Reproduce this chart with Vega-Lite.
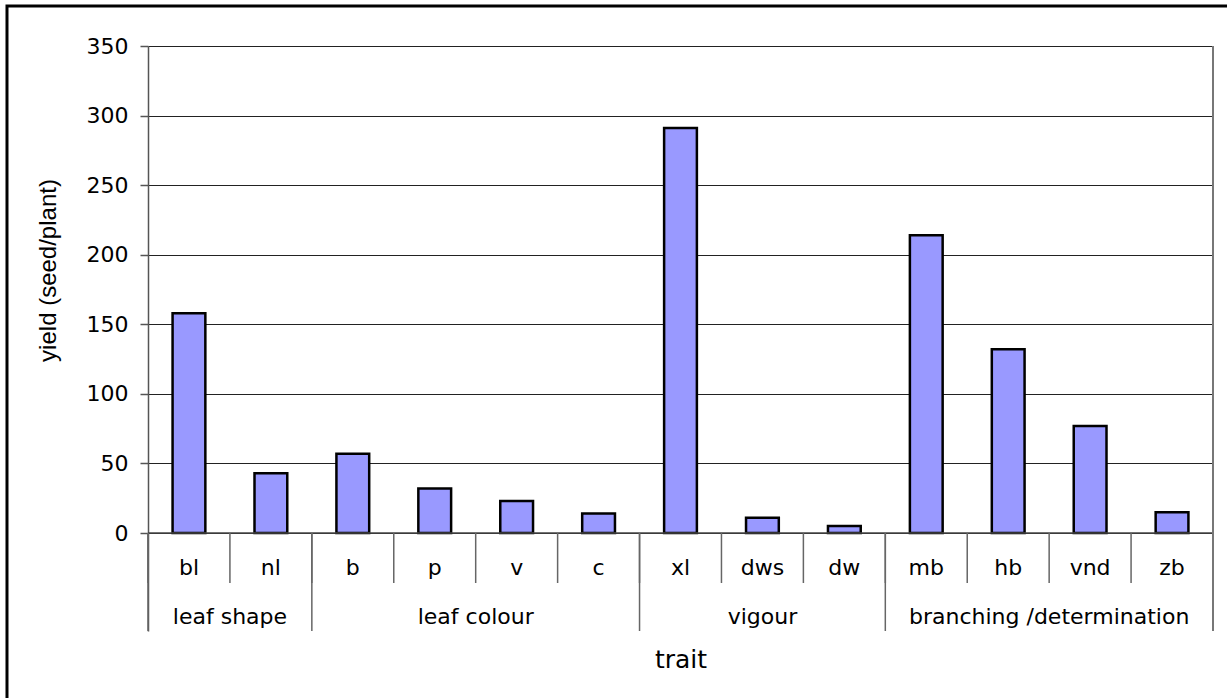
{
  "$schema": "https://vega.github.io/schema/vega-lite/v6.json",
  "width": 1065,
  "height": 585,
  "autosize": {"type": "none"},
  "padding": {"left": 148, "top": 46, "right": 14, "bottom": 67},
  "background": "white",
  "config": {"view": {"stroke": null}, "font": "DejaVu Sans"},
  "data": {
    "values": [
      {"trait": "bl", "group": "leaf shape", "yield": 158},
      {"trait": "nl", "group": "leaf shape", "yield": 43},
      {"trait": "b", "group": "leaf colour", "yield": 57},
      {"trait": "p", "group": "leaf colour", "yield": 32},
      {"trait": "v", "group": "leaf colour", "yield": 23},
      {"trait": "c", "group": "leaf colour", "yield": 14},
      {"trait": "xl", "group": "vigour", "yield": 291},
      {"trait": "dws", "group": "vigour", "yield": 11},
      {"trait": "dw", "group": "vigour", "yield": 5},
      {"trait": "mb", "group": "branching /determination", "yield": 214},
      {"trait": "hb", "group": "branching /determination", "yield": 132},
      {"trait": "vnd", "group": "branching /determination", "yield": 77},
      {"trait": "zb", "group": "branching /determination", "yield": 15}
    ]
  },
  "resolve": {"scale": {"x": "independent", "y": "independent"}},
  "layer": [
    {
      "data": {"values": [{}]},
      "mark": {"type": "rect", "filled": false, "stroke": "black", "strokeWidth": 3},
      "encoding": {
        "x": {"datum": -0.1324, "type": "quantitative", "scale": {"domain": [0, 1], "nice": false, "zero": false}, "axis": null},
        "x2": {"datum": 1.1},
        "y": {"datum": 378.7, "type": "quantitative", "scale": {"domain": [-70.4, 350], "nice": false, "zero": false}, "axis": null},
        "y2": {"datum": -140}
      }
    },
    {
      "layer": [
        {
          "mark": {"type": "bar", "fill": "#9999ff", "stroke": "black", "strokeWidth": 2.5, "width": {"band": 0.4}},
          "encoding": {
            "x": {
              "field": "trait", "type": "nominal",
              "scale": {"domain": ["bl","nl","b","p","v","c","xl","dws","dw","mb","hb","vnd","zb"], "paddingInner": 0, "paddingOuter": 0},
              "axis": {"labels": false, "ticks": false, "domain": false, "grid": false, "title": "trait", "titleFont": "DejaVu Sans", "titleFontSize": 25, "titleFontWeight": "normal", "titlePadding": 16, "titleColor": "black"}
            },
            "y": {
              "field": "yield", "type": "quantitative",
              "scale": {"domain": [-70.4, 350], "nice": false, "zero": false},
              "axis": {
                "values": [0, 50, 100, 150, 200, 250, 300, 350],
                "grid": true, "gridColor": "#222", "gridWidth": 1,
                "domainColor": "#555", "domainWidth": 1.5,
                "tickColor": "#555", "tickSize": 8, "tickWidth": 1.5,
                "labelFont": "DejaVu Sans", "labelFontSize": 22, "labelColor": "black", "labelPadding": 12,
                "title": "yield (seed/plant)", "titleFont": "Liberation Sans", "titleFontSize": 24, "titleFontWeight": "normal", "titleColor": "black",
                "titleX": -100, "titleY": 224, "titleBaseline": "middle", "titleAngle": 270, "titleAlign": "center"
              }
            },
            "y2": {"datum": 0}
          }
        },
        {
          "data": {"values": [{}]},
          "mark": {"type": "rule", "color": "#444", "strokeWidth": 1.5},
          "encoding": {"y": {"datum": 0, "type": "quantitative"}}
        },
        {
          "mark": {"type": "rule", "color": "#666", "strokeWidth": 1.5},
          "encoding": {
            "x": {"field": "trait", "type": "nominal", "bandPosition": 0, "scale": {"domain": ["bl","nl","b","p","v","c","xl","dws","dw","mb","hb","vnd","zb"], "paddingInner": 0, "paddingOuter": 0}},
            "y": {"datum": 0, "type": "quantitative"},
            "y2": {"datum": -35.9}
          }
        },
        {
          "transform": [
            {"window": [{"op": "row_number", "as": "rn"}], "groupby": ["group"]},
            {"filter": "datum.rn == 1"}
          ],
          "mark": {"type": "rule", "color": "#666", "strokeWidth": 1.5},
          "encoding": {
            "x": {"field": "trait", "type": "nominal", "bandPosition": 0, "scale": {"domain": ["bl","nl","b","p","v","c","xl","dws","dw","mb","hb","vnd","zb"], "paddingInner": 0, "paddingOuter": 0}},
            "y": {"datum": 0, "type": "quantitative"},
            "y2": {"datum": -70.4}
          }
        },
        {
          "transform": [
            {"window": [{"op": "row_number", "as": "rn"}]},
            {"joinaggregate": [{"op": "count", "as": "n"}]},
            {"filter": "datum.rn == datum.n"}
          ],
          "mark": {"type": "rule", "color": "#777", "strokeWidth": 2},
          "encoding": {
            "x": {"field": "trait", "type": "nominal", "bandPosition": 1, "scale": {"domain": ["bl","nl","b","p","v","c","xl","dws","dw","mb","hb","vnd","zb"], "paddingInner": 0, "paddingOuter": 0}},
            "y": {"datum": 350, "type": "quantitative"},
            "y2": {"datum": -70.4}
          }
        },
        {
          "mark": {"type": "text", "font": "DejaVu Sans", "fontSize": 22, "color": "black", "baseline": "middle", "align": "center"},
          "encoding": {
            "x": {"field": "trait", "type": "nominal", "scale": {"domain": ["bl","nl","b","p","v","c","xl","dws","dw","mb","hb","vnd","zb"], "paddingInner": 0, "paddingOuter": 0}},
            "y": {"datum": -25.3, "type": "quantitative"},
            "text": {"field": "trait"}
          }
        },
        {
          "transform": [
            {"joinaggregate": [{"op": "count", "as": "n"}], "groupby": ["group"]},
            {"window": [{"op": "row_number", "as": "rn"}], "groupby": ["group"]},
            {"filter": "datum.n % 2 == 0 && datum.rn == datum.n / 2 + 1"}
          ],
          "mark": {"type": "text", "font": "DejaVu Sans", "fontSize": 22, "color": "black", "baseline": "middle", "align": "center"},
          "encoding": {
            "x": {"field": "trait", "type": "nominal", "bandPosition": 0, "scale": {"domain": ["bl","nl","b","p","v","c","xl","dws","dw","mb","hb","vnd","zb"], "paddingInner": 0, "paddingOuter": 0}},
            "y": {"datum": -60.4, "type": "quantitative"},
            "text": {"field": "group"}
          }
        },
        {
          "transform": [
            {"joinaggregate": [{"op": "count", "as": "n"}], "groupby": ["group"]},
            {"window": [{"op": "row_number", "as": "rn"}], "groupby": ["group"]},
            {"filter": "datum.n % 2 == 1 && datum.rn == (datum.n + 1) / 2"}
          ],
          "mark": {"type": "text", "font": "DejaVu Sans", "fontSize": 22, "color": "black", "baseline": "middle", "align": "center"},
          "encoding": {
            "x": {"field": "trait", "type": "nominal", "bandPosition": 0.5, "scale": {"domain": ["bl","nl","b","p","v","c","xl","dws","dw","mb","hb","vnd","zb"], "paddingInner": 0, "paddingOuter": 0}},
            "y": {"datum": -60.4, "type": "quantitative"},
            "text": {"field": "group"}
          }
        }
      ]
    }
  ]
}
